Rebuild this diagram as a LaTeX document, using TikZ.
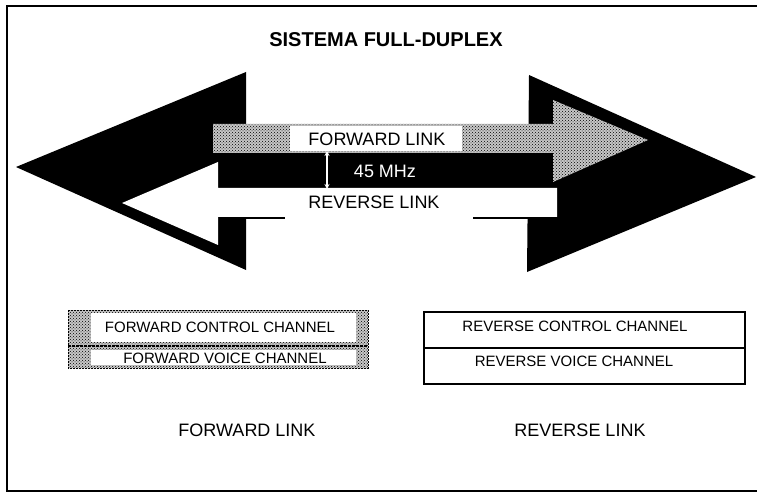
\documentclass[tikz,border=0pt]{standalone}
\usepackage{fontspec}
\setmainfont{Liberation Sans}
\usetikzlibrary{patterns,arrows.meta}
\begin{document}
\begin{tikzpicture}[x=1pt,y=-1pt,
  lbl/.style={inner sep=0pt, font=\fontsize{18}{20}\selectfont},
  chan/.style={inner sep=0pt, font=\fontsize{15}{17}\selectfont},
  stipplefill/.style={pattern=crosshatch dots, pattern color=black},
  stipplebase/.style={fill=black!22}]
\useasboundingbox (0,0) rectangle (757,494);
\fill[white] (0,0) rectangle (757,494);
% frame
\draw[line width=2.5pt] (757,6) -- (7,6) -- (7,491) -- (757,491);
% title
\node[inner sep=0pt, font=\bfseries\fontsize{20}{22}\selectfont] (title) at (386,39.5) {SISTEMA FULL-DUPLEX};
% big black double arrow
\fill[black] (16,167) -- (246,72) -- (246,270) -- cycle;
\fill[black] (529,75) -- (756,177) -- (527,272) -- cycle;
\fill[black] (217,124) rectangle (555,188);
\draw[line width=1.5pt] (246,218) -- (285,218);
\draw[line width=1.5pt] (473,218) -- (529,218);
% forward (stippled) arrow
\path[stipplebase] (213,124) -- (553,124) -- (553,100) -- (648,140) -- (553,182) -- (553,153) -- (213,153) -- cycle;
\path[stipplefill] (213,124) -- (553,124) -- (553,100) -- (648,140) -- (553,182) -- (553,153) -- (213,153) -- cycle;
\fill[white] (290,126.5) rectangle (462,151);
% reverse (white) arrow
\fill[white] (557,188) -- (218,188) -- (218,162) -- (122,203) -- (218,245) -- (218,217) -- (557,217) -- cycle;
% labels in the arrows
\node[lbl] (fl) at (377,139) {FORWARD LINK};
\node[lbl, text=white] (mhz) at (385,171) {45 MHz};
\node[lbl] (rl) at (374,202) {REVERSE LINK};
\coordinate (a1) at (327,151);
\coordinate (a2) at (327,189);
\draw[white, line width=1.1pt, {Stealth[length=5pt,width=5pt]}-{Stealth[length=5pt,width=5pt]}] (a1) -- (a2);
% forward channel box
\path[stipplebase] (68,310) rectangle (368,368);
\path[stipplefill] (68,310) rectangle (368,368);
\fill[white] (91,313) rectangle (356,342);
\fill[white] (91,350) rectangle (356,365);
\draw[line width=0.8pt, dash pattern=on 2pt off 1pt] (68,310) rectangle (368,368);
\draw[line width=1.2pt, dash pattern=on 3pt off 1pt] (68,346) -- (368,346);
\node[chan] (fcc) at (220,327.5) {FORWARD CONTROL CHANNEL};
\node[chan] (fvc) at (225,358) {FORWARD VOICE CHANNEL};
% reverse channel box
\draw[line width=1.3pt] (424,312) rectangle (745,384);
\draw[line width=1.3pt] (424,348) -- (745,348);
\node[chan] (rcc) at (575,326) {REVERSE CONTROL CHANNEL};
\node[chan] (rvc) at (574,361) {REVERSE VOICE CHANNEL};
% bottom labels
\node[lbl] (bfl) at (247,430) {FORWARD LINK};
\node[lbl] (brl) at (580,430) {REVERSE LINK};
\end{tikzpicture}
\end{document}
